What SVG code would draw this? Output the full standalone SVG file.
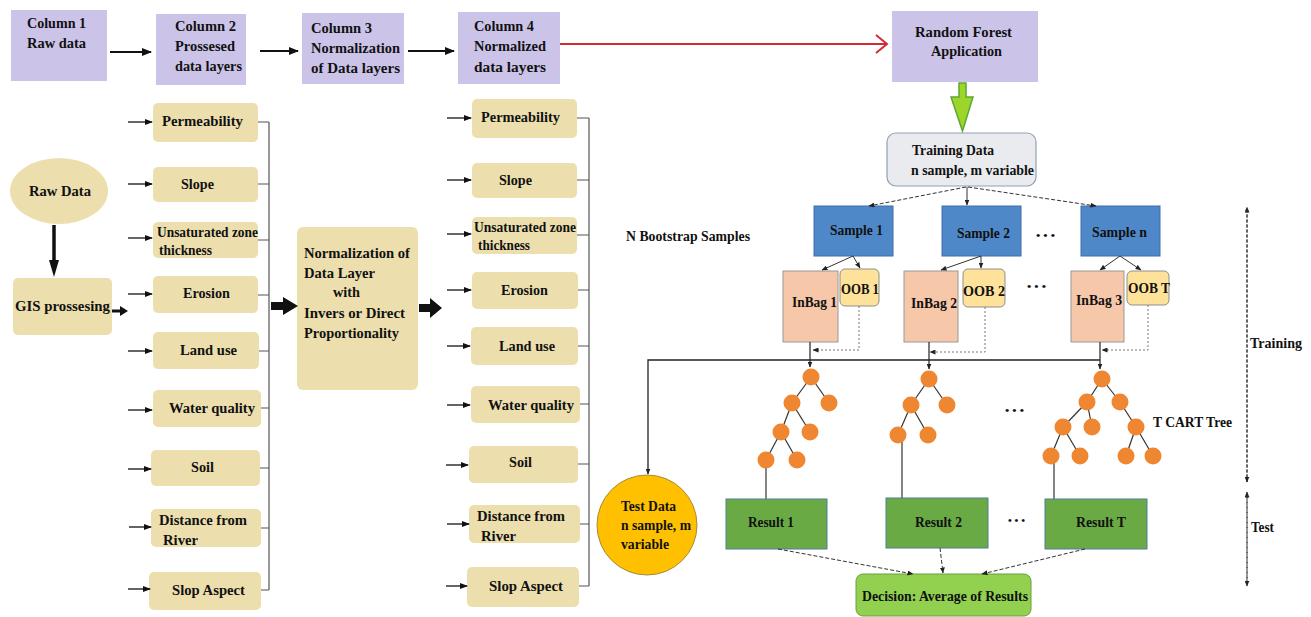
<svg xmlns="http://www.w3.org/2000/svg" width="1311" height="617" viewBox="0 0 1311 617">
<defs>
<style>
text{font-family:"Liberation Serif","Times New Roman",serif;font-weight:bold;fill:#111;font-size:15px;}
.s{font-size:14px;}
.dots{font-size:10px;}
.hdr{fill:#CBC3E8;}
.khaki{fill:#ECDFAD;}
.ln{stroke:#111;stroke-width:1.3;fill:none;}
.br{stroke:#555;stroke-width:1.2;fill:none;}
.hd{stroke:#111;stroke-width:2.2;fill:none;}
.dash{stroke:#333;stroke-width:1;fill:none;stroke-dasharray:4 2;}
.dot{stroke:#777;stroke-width:1;fill:none;stroke-dasharray:2 2;}
.blue{fill:#4F88C8;stroke:#3F6FA8;stroke-width:1;}
.bag{fill:#F7C7A9;stroke:#9A9A9A;stroke-width:1;}
.oob{fill:#FFE29A;stroke:#8F8F8F;stroke-width:1;}
.res{fill:#6AAA45;stroke:#4E7F9A;stroke-width:1;}
.nd{fill:#EF8631;}
.ed{stroke:#333;stroke-width:1.2;}
</style>
<marker id="a" markerWidth="8" markerHeight="6" refX="7" refY="3" orient="auto" markerUnits="userSpaceOnUse"><path d="M0,0 L8,3 L0,6 Z" fill="#111"/></marker>
<marker id="a2" markerWidth="10" markerHeight="8" refX="9" refY="4" orient="auto" markerUnits="userSpaceOnUse"><path d="M0,0 L10,4 L0,8 Z" fill="#111"/></marker>
<marker id="as" markerWidth="6" markerHeight="5" refX="5.5" refY="2.5" orient="auto" markerUnits="userSpaceOnUse"><path d="M0,0 L6,2.5 L0,5 Z" fill="#222"/></marker>
</defs>

<g id="col1"><rect class="hdr" x="11" y="10" width="96" height="71"/><text x="27" y="28" textLength="59" lengthAdjust="spacingAndGlyphs">Column 1</text><text x="27" y="48" textLength="59" lengthAdjust="spacingAndGlyphs">Raw data</text></g>
<g id="col2"><rect class="hdr" x="156" y="14" width="90" height="71"/><text x="175" y="31" textLength="61" lengthAdjust="spacingAndGlyphs">Column  2</text><text x="175" y="51" textLength="60" lengthAdjust="spacingAndGlyphs">Prossesed</text><text x="175" y="71" textLength="67" lengthAdjust="spacingAndGlyphs">data layers</text></g>
<g id="col3"><rect class="hdr" x="302" y="13" width="102" height="71"/><text x="311" y="33" textLength="61" lengthAdjust="spacingAndGlyphs">Column 3</text><text x="311" y="53" textLength="89" lengthAdjust="spacingAndGlyphs">Normalization</text><text x="311" y="73" textLength="89" lengthAdjust="spacingAndGlyphs">of Data layers</text></g>
<g id="col4"><rect class="hdr" x="458" y="12" width="102" height="72"/><text x="474" y="31" textLength="60" lengthAdjust="spacingAndGlyphs">Column 4</text><text x="474" y="51" textLength="72" lengthAdjust="spacingAndGlyphs">Normalized</text><text x="474" y="72" textLength="72" lengthAdjust="spacingAndGlyphs">data layers</text></g>
<g id="rf"><rect class="hdr" x="892" y="11" width="146" height="71"/><text x="915" y="37" textLength="97" lengthAdjust="spacingAndGlyphs">Random Forest</text><text x="931" y="56" textLength="71" lengthAdjust="spacingAndGlyphs">Application</text></g>

<g id="rawdata"><ellipse cx="59" cy="191" rx="49" ry="33" class="khaki"/><text x="29" y="196" textLength="62" lengthAdjust="spacingAndGlyphs">Raw Data</text></g>
<g id="gis"><rect class="khaki" x="13" y="278" width="99" height="57" rx="5"/><text x="15" y="311" textLength="95" lengthAdjust="spacingAndGlyphs">GIS prossesing</text></g>

<g id="c2list">
<rect class="khaki" x="153" y="103" width="105" height="39" rx="5"/><text x="162" y="126" textLength="81" lengthAdjust="spacingAndGlyphs">Permeability</text>
<rect class="khaki" x="153" y="167" width="105" height="35" rx="5"/><text x="181" y="189" textLength="33" lengthAdjust="spacingAndGlyphs">Slope</text>
<rect class="khaki" x="153" y="222" width="105" height="36" rx="5"/><text class="s" x="157" y="237" textLength="101" lengthAdjust="spacingAndGlyphs">Unsaturated zone</text><text class="s" x="159" y="255" textLength="53" lengthAdjust="spacingAndGlyphs">thickness</text>
<rect class="khaki" x="153" y="276" width="105" height="37" rx="5"/><text x="183" y="298" textLength="47" lengthAdjust="spacingAndGlyphs">Erosion</text>
<rect class="khaki" x="153" y="332" width="106" height="37" rx="5"/><text x="180" y="355" textLength="57" lengthAdjust="spacingAndGlyphs">Land use</text>
<rect class="khaki" x="153" y="390" width="108" height="37" rx="5"/><text x="169" y="413" textLength="86" lengthAdjust="spacingAndGlyphs">Water quality</text>
<rect class="khaki" x="151" y="450" width="109" height="36" rx="5"/><text x="191" y="472" textLength="23" lengthAdjust="spacingAndGlyphs">Soil</text>
<rect class="khaki" x="151" y="509" width="110" height="38" rx="5"/><text x="159" y="525" textLength="88" lengthAdjust="spacingAndGlyphs">Distance from</text><text x="163" y="545" textLength="35" lengthAdjust="spacingAndGlyphs">River</text>
<rect class="khaki" x="149" y="572" width="112" height="38" rx="5"/><text x="172" y="595" textLength="73" lengthAdjust="spacingAndGlyphs">Slop Aspect</text>
</g>

<g id="norm"><rect class="khaki" x="297" y="227" width="121" height="163" rx="6"/>
<text x="304" y="258" textLength="106" lengthAdjust="spacingAndGlyphs">Normalization of</text><text x="304" y="278" textLength="71" lengthAdjust="spacingAndGlyphs">Data Layer</text><text x="333" y="297" textLength="27" lengthAdjust="spacingAndGlyphs">with</text><text x="304" y="318" textLength="101" lengthAdjust="spacingAndGlyphs">Invers or Direct</text><text x="304" y="338" textLength="95" lengthAdjust="spacingAndGlyphs">Proportionality</text></g>

<g id="c4list">
<rect class="khaki" x="472" y="99" width="105" height="39" rx="5"/><text x="481" y="122" textLength="79" lengthAdjust="spacingAndGlyphs">Permeability</text>
<rect class="khaki" x="472" y="163" width="105" height="35" rx="5"/><text x="499" y="185" textLength="33" lengthAdjust="spacingAndGlyphs">Slope</text>
<rect class="khaki" x="472" y="217" width="105" height="37" rx="5"/><text class="s" x="474" y="232" textLength="102" lengthAdjust="spacingAndGlyphs">Unsaturated zone</text><text class="s" x="478" y="250" textLength="52" lengthAdjust="spacingAndGlyphs">thickness</text>
<rect class="khaki" x="472" y="272" width="106" height="37" rx="5"/><text x="501" y="295" textLength="47" lengthAdjust="spacingAndGlyphs">Erosion</text>
<rect class="khaki" x="471" y="327" width="107" height="38" rx="5"/><text x="499" y="351" textLength="56" lengthAdjust="spacingAndGlyphs">Land use</text>
<rect class="khaki" x="471" y="386" width="109" height="37" rx="5"/><text x="488" y="410" textLength="86" lengthAdjust="spacingAndGlyphs">Water quality</text>
<rect class="khaki" x="469" y="446" width="109" height="37" rx="5"/><text x="509" y="467" textLength="23" lengthAdjust="spacingAndGlyphs">Soil</text>
<rect class="khaki" x="469" y="505" width="111" height="38" rx="5"/><text x="477" y="521" textLength="88" lengthAdjust="spacingAndGlyphs">Distance from</text><text x="481" y="541" textLength="35" lengthAdjust="spacingAndGlyphs">River</text>
<rect class="khaki" x="467" y="567" width="112" height="40" rx="5"/><text x="489" y="591" textLength="74" lengthAdjust="spacingAndGlyphs">Slop Aspect</text>
</g>

<g id="training"><rect x="887" y="133" width="149" height="53" rx="9" fill="#E9EBEE" stroke="#8EA2B4" stroke-width="1.2"/><text x="912" y="155" textLength="82" lengthAdjust="spacingAndGlyphs">Training Data</text><text x="911" y="175" textLength="123" lengthAdjust="spacingAndGlyphs">n sample, m variable</text></g>
<text x="626" y="241" textLength="124" lengthAdjust="spacingAndGlyphs">N Bootstrap Samples</text>

<g id="s1"><rect class="blue" x="814" y="206" width="79" height="50"/><text x="830" y="235" textLength="53" lengthAdjust="spacingAndGlyphs">Sample 1</text></g>
<g id="s2"><rect class="blue" x="942" y="206" width="79" height="50"/><text x="957" y="238" textLength="53" lengthAdjust="spacingAndGlyphs">Sample 2</text></g>
<g id="sn"><rect class="blue" x="1081" y="206" width="79" height="50"/><text x="1092" y="237" textLength="55" lengthAdjust="spacingAndGlyphs">Sample n</text></g>
<text class="dots" x="1036" y="239" textLength="19" lengthAdjust="spacingAndGlyphs">• • •</text>

<g id="ib1"><rect class="bag" x="783" y="271" width="55" height="71"/><text x="792" y="307" textLength="45" lengthAdjust="spacingAndGlyphs">InBag 1</text></g>
<g id="oob1"><rect class="oob" x="840" y="269" width="39" height="37" rx="5"/><text x="841" y="294" textLength="38" lengthAdjust="spacingAndGlyphs">OOB 1</text></g>
<g id="ib2"><rect class="bag" x="904" y="271" width="54" height="71"/><text x="911" y="308" textLength="46" lengthAdjust="spacingAndGlyphs">InBag 2</text></g>
<g id="oob2"><rect class="oob" x="963" y="269" width="42" height="38" rx="5"/><text x="963" y="296" textLength="42" lengthAdjust="spacingAndGlyphs">OOB 2</text></g>
<text class="dots" x="1027" y="290" textLength="19" lengthAdjust="spacingAndGlyphs">• • •</text>
<g id="ib3"><rect class="bag" x="1071" y="271" width="53" height="71"/><text x="1076" y="305" textLength="46" lengthAdjust="spacingAndGlyphs">InBag 3</text></g>
<g id="oobt"><rect class="oob" x="1127" y="271" width="42" height="34" rx="5"/><text x="1128" y="293" textLength="42" lengthAdjust="spacingAndGlyphs">OOB T</text></g>

<g id="tree1">
<line class="ed" x1="811" y1="377" x2="792" y2="403"/><line class="ed" x1="811" y1="377" x2="829" y2="403"/>
<line class="ed" x1="792" y1="403" x2="781" y2="432"/><line class="ed" x1="792" y1="403" x2="810" y2="432"/>
<line class="ed" x1="781" y1="432" x2="766" y2="460"/><line class="ed" x1="781" y1="432" x2="797" y2="460"/>
<line class="ed" x1="766" y1="460" x2="766" y2="499"/>
<circle class="nd" cx="811" cy="377" r="8.5"/><circle class="nd" cx="792" cy="403" r="8.5"/><circle class="nd" cx="829" cy="403" r="8.5"/><circle class="nd" cx="781" cy="432" r="8.5"/><circle class="nd" cx="810" cy="432" r="8.5"/><circle class="nd" cx="766" cy="460" r="8.5"/><circle class="nd" cx="797" cy="460" r="8.5"/>
</g>
<g id="tree2">
<line class="ed" x1="929" y1="379" x2="911" y2="405"/><line class="ed" x1="929" y1="379" x2="947" y2="405"/>
<line class="ed" x1="911" y1="405" x2="898" y2="435"/><line class="ed" x1="911" y1="405" x2="928" y2="435"/>
<line class="ed" x1="902" y1="435" x2="902" y2="498"/>
<circle class="nd" cx="929" cy="379" r="8.5"/><circle class="nd" cx="911" cy="405" r="8.5"/><circle class="nd" cx="947" cy="405" r="8.5"/><circle class="nd" cx="898" cy="435" r="8.5"/><circle class="nd" cx="928" cy="435" r="8.5"/>
</g>
<text class="dots" x="1005" y="414" textLength="19" lengthAdjust="spacingAndGlyphs">• • •</text>
<g id="tree3">
<line class="ed" x1="1102" y1="379" x2="1087" y2="402"/><line class="ed" x1="1102" y1="379" x2="1120" y2="402"/>
<line class="ed" x1="1087" y1="402" x2="1063" y2="427"/><line class="ed" x1="1087" y1="402" x2="1092" y2="427"/>
<line class="ed" x1="1063" y1="427" x2="1051" y2="456"/><line class="ed" x1="1063" y1="427" x2="1080" y2="456"/>
<line class="ed" x1="1120" y1="402" x2="1136" y2="427"/>
<line class="ed" x1="1136" y1="427" x2="1126" y2="456"/><line class="ed" x1="1136" y1="427" x2="1153" y2="456"/>
<line class="ed" x1="1054" y1="456" x2="1054" y2="499"/>
<circle class="nd" cx="1102" cy="379" r="8.5"/><circle class="nd" cx="1087" cy="402" r="8.5"/><circle class="nd" cx="1120" cy="402" r="8.5"/><circle class="nd" cx="1063" cy="427" r="8.5"/><circle class="nd" cx="1092" cy="427" r="8.5"/><circle class="nd" cx="1136" cy="427" r="8.5"/><circle class="nd" cx="1051" cy="456" r="8.5"/><circle class="nd" cx="1080" cy="456" r="8.5"/><circle class="nd" cx="1126" cy="456" r="8.5"/><circle class="nd" cx="1153" cy="456" r="8.5"/>
</g>
<text x="1153" y="427" textLength="79" lengthAdjust="spacingAndGlyphs">T CART Tree</text>

<g id="testdata"><circle cx="647" cy="525" r="50" fill="#FFC000" stroke="#A8893A" stroke-width="1"/><text x="621" y="511" textLength="55" lengthAdjust="spacingAndGlyphs">Test Data</text><text x="621" y="530" textLength="70" lengthAdjust="spacingAndGlyphs">n sample, m</text><text x="621" y="549" textLength="48" lengthAdjust="spacingAndGlyphs">variable</text></g>

<g id="r1"><rect class="res" x="726" y="499" width="101" height="50"/><text x="748" y="527" textLength="46" lengthAdjust="spacingAndGlyphs">Result 1</text></g>
<g id="r2"><rect class="res" x="886" y="498" width="102" height="50"/><text x="915" y="527" textLength="47" lengthAdjust="spacingAndGlyphs">Result 2</text></g>
<text class="dots" x="1008" y="524" textLength="17" lengthAdjust="spacingAndGlyphs">• • •</text>
<g id="rt"><rect class="res" x="1045" y="499" width="102" height="50"/><text x="1076" y="527" textLength="50" lengthAdjust="spacingAndGlyphs">Result T</text></g>

<g id="decision"><rect x="856" y="574" width="175" height="42" rx="7" fill="#92D050" stroke="#6C9E3C" stroke-width="1"/><text x="862" y="601" textLength="166" lengthAdjust="spacingAndGlyphs">Decision: Average of Results</text></g>

<text x="1250" y="348" textLength="52" lengthAdjust="spacingAndGlyphs">Training</text>
<text x="1251" y="532" textLength="23" lengthAdjust="spacingAndGlyphs">Test</text>

<g id="connectors">
<line class="hd" x1="110" y1="52" x2="151" y2="52" marker-end="url(#a2)"/>
<line class="hd" x1="260" y1="51" x2="298" y2="51" marker-end="url(#a2)"/>
<line class="hd" x1="408" y1="51" x2="454" y2="51" marker-end="url(#a2)"/>
<line x1="560" y1="44" x2="886" y2="44" stroke="#D42A35" stroke-width="2"/>
<polyline points="876,35 887,44 876,53" fill="none" stroke="#D42A35" stroke-width="2"/>
<polygon points="959,83 966,83 966,97 973,97 962.5,131 951,97 959,97" fill="#9ED52A" stroke="#5DA832" stroke-width="1.5"/>
<line x1="54" y1="225" x2="54" y2="262" stroke="#111" stroke-width="3.5"/>
<polygon points="49,260 59,260 54,277" fill="#111"/>
<line x1="112" y1="311" x2="121" y2="311" stroke="#111" stroke-width="3"/>
<polygon points="120,306 128,311 120,316" fill="#111"/>
<line class="ln" x1="128" y1="122" x2="152" y2="122" marker-end="url(#a)"/>
<line class="ln" x1="128" y1="184" x2="152" y2="184" marker-end="url(#a)"/>
<line class="ln" x1="128" y1="238" x2="152" y2="238" marker-end="url(#a)"/>
<line class="ln" x1="128" y1="294" x2="152" y2="294" marker-end="url(#a)"/>
<line class="ln" x1="128" y1="351" x2="152" y2="351" marker-end="url(#a)"/>
<line class="ln" x1="128" y1="410" x2="152" y2="410" marker-end="url(#a)"/>
<line class="ln" x1="128" y1="469" x2="151" y2="469" marker-end="url(#a)"/>
<line class="ln" x1="129" y1="527" x2="151" y2="527" marker-end="url(#a)"/>
<line class="ln" x1="128" y1="589" x2="150" y2="589" marker-end="url(#a)"/>
<path class="br" d="M258,122 H269 M258,184 H269 M258,240 H269 M258,295 H269 M259,351 H269 M261,408 H269 M260,468 H269 M261,528 H269 M261,590 H269 M269,122 V590"/>
<polygon points="271,302 283,302 283,297 298,306 283,315 283,310 271,310" fill="#111"/>
<polygon points="419,304 430,304 430,298 442,308 430,318 430,312 419,312" fill="#111"/>
<line class="ln" x1="447" y1="118" x2="471" y2="118" marker-end="url(#a)"/>
<line class="ln" x1="447" y1="180" x2="471" y2="180" marker-end="url(#a)"/>
<line class="ln" x1="447" y1="234" x2="471" y2="234" marker-end="url(#a)"/>
<line class="ln" x1="447" y1="290" x2="471" y2="290" marker-end="url(#a)"/>
<line class="ln" x1="447" y1="346" x2="470" y2="346" marker-end="url(#a)"/>
<line class="ln" x1="447" y1="405" x2="470" y2="405" marker-end="url(#a)"/>
<line class="ln" x1="446" y1="465" x2="468" y2="465" marker-end="url(#a)"/>
<line class="ln" x1="447" y1="524" x2="469" y2="524" marker-end="url(#a)"/>
<line class="ln" x1="446" y1="586" x2="467" y2="586" marker-end="url(#a)"/>
<path class="br" d="M577,118 H589 M577,180 H589 M577,235 H589 M578,290 H589 M578,346 H589 M580,404 H589 M578,464 H589 M580,524 H589 M579,586 H589 M589,118 V586"/>
<line class="dash" x1="966" y1="187" x2="869" y2="206" marker-end="url(#as)"/>
<line x1="967" y1="187" x2="967" y2="205" stroke="#333" stroke-width="1" marker-end="url(#as)"/>
<line class="dash" x1="968" y1="187" x2="1096" y2="206" marker-end="url(#as)"/>
<line x1="853" y1="256" x2="822" y2="270" stroke="#333" stroke-width="1" marker-end="url(#as)"/>
<line x1="853" y1="256" x2="860" y2="268" stroke="#333" stroke-width="1" marker-end="url(#as)"/>
<line x1="981" y1="256" x2="941" y2="270" stroke="#333" stroke-width="1" marker-end="url(#as)"/>
<line x1="981" y1="256" x2="981" y2="268" stroke="#333" stroke-width="1" marker-end="url(#as)"/>
<line x1="1120" y1="256" x2="1100" y2="270" stroke="#333" stroke-width="1" marker-end="url(#as)"/>
<line x1="1120" y1="256" x2="1141" y2="270" stroke="#333" stroke-width="1" marker-end="url(#as)"/>
<polyline class="dot" points="859,306 859,350 813,350" marker-end="url(#as)"/>
<polyline class="dot" points="985,307 985,352 930,352" marker-end="url(#as)"/>
<polyline class="dot" points="1148,305 1148,350 1102,350" marker-end="url(#as)"/>
<line x1="810" y1="342" x2="810" y2="367" stroke="#222" stroke-width="1.2" marker-end="url(#as)"/>
<line x1="929" y1="342" x2="929" y2="369" stroke="#222" stroke-width="1.2" marker-end="url(#as)"/>
<line x1="1100" y1="342" x2="1100" y2="369" stroke="#222" stroke-width="1.2" marker-end="url(#as)"/>
<polyline points="1100,360 648,360 648,474" fill="none" stroke="#222" stroke-width="1.3" marker-end="url(#as)"/>
<line class="dash" x1="778" y1="549" x2="913" y2="574" marker-end="url(#as)"/>
<line class="dash" x1="940" y1="548" x2="943" y2="573" marker-end="url(#as)"/>
<line class="dash" x1="1085" y1="549" x2="982" y2="574" marker-end="url(#as)"/>
<line x1="1247" y1="482" x2="1247" y2="207" stroke="#333" stroke-width="1" stroke-dasharray="3 2" marker-end="url(#as)"/>
<line x1="1247" y1="210" x2="1247" y2="482" stroke="#333" stroke-width="1" stroke-dasharray="3 2" marker-end="url(#as)"/>
<line x1="1247" y1="585" x2="1247" y2="492" stroke="#333" stroke-width="1" stroke-dasharray="3 2" marker-end="url(#as)"/>
<line x1="1247" y1="495" x2="1247" y2="586" stroke="#333" stroke-width="1" stroke-dasharray="3 2" marker-end="url(#as)"/>
</g>
</svg>
